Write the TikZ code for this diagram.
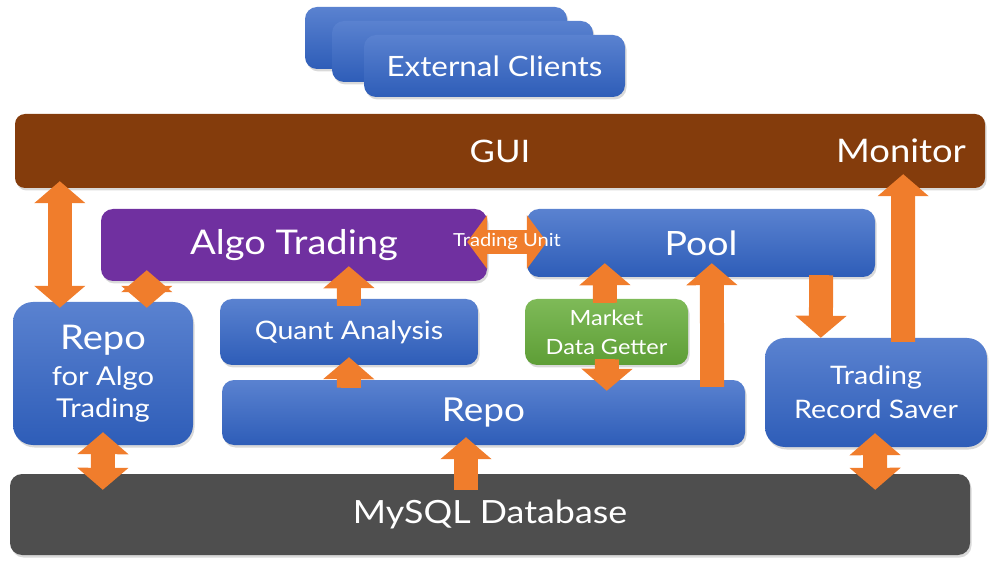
\documentclass[tikz,border=0pt]{standalone}
\usepackage{fontspec}
\setmainfont{Lato}[FakeStretch=1.12]
\usetikzlibrary{arrows.meta,shadows}
\definecolor{blueA}{HTML}{5A82D0}
\definecolor{blueB}{HTML}{2E5DB8}
\definecolor{algopurple}{HTML}{7030A0}
\definecolor{guibrown}{HTML}{843C0C}
\definecolor{greenA}{HTML}{7EBA58}
\definecolor{greenB}{HTML}{5E9E36}
\definecolor{dbgrey}{HTML}{4E4E4E}
\definecolor{linkorange}{HTML}{F07D2C}
\begin{document}
\begin{tikzpicture}[x=1pt, y=-1pt,
    >={Triangle[width=50pt,length=22pt]},
    box/.style={rounded corners=12pt, text=white, align=center, inner sep=0pt,
      drop shadow={opacity=0.3, shadow xshift=1.5pt, shadow yshift=-2.5pt}},
    bluebox/.style={box, top color=blueA, bottom color=blueB},
    link/.style={draw=linkorange, line width=24pt, ->},
    dlink/.style={link, <->}]
    \useasboundingbox (0,0) rectangle (997,572);

    % external clients stack
    \node[bluebox, minimum width=262pt, minimum height=62pt] (ext1) at (436,38) {};
    \node[bluebox, minimum width=261pt, minimum height=61pt] (ext2) at (462.5,51.5) {};
    \node[bluebox, minimum width=261pt, minimum height=62pt, font=\fontsize{28}{32}\selectfont] (clients) at (494.5,66) {External Clients};

    % gui bar
    \node[box, fill=guibrown, rounded corners=10pt, minimum width=970pt, minimum height=74pt, font=\fontsize{31}{40}\selectfont] (gui) at (500,151) {GUI};
    \node[text=white, font=\fontsize{32.5}{40}\selectfont] (monitor) at (901,151) {Monitor};

    % middle boxes
    \node[box, fill=algopurple, minimum width=386pt, minimum height=72pt, font=\fontsize{34}{40}\selectfont] (algo) at (294,245) {Algo Trading};
    \node[bluebox, minimum width=348pt, minimum height=68pt, font=\fontsize{33.5}{40}\selectfont] (pool) at (701,243) {Pool};
    \node[bluebox, rounded corners=20pt, minimum width=180pt, minimum height=143pt, font=\fontsize{26}{32}\selectfont] (repoalgo) at (103,373.5) {{\fontsize{34}{36}\selectfont Repo}\\[4pt]for Algo\\Trading};
    \node[bluebox, minimum width=258pt, minimum height=66pt, font=\fontsize{25.5}{30}\selectfont] (quant) at (349,332) {Quant Analysis};
    \node[box, top color=greenA, bottom color=greenB, minimum width=163pt, minimum height=66pt, font=\fontsize{21}{29}\selectfont] (market) at (606.5,332) {Market\\Data Getter};
    \node[bluebox, minimum width=523pt, minimum height=65pt, font=\fontsize{33}{36}\selectfont] (repo) at (483.5,412.5) {Repo};
    \node[bluebox, rounded corners=20pt, minimum width=222pt, minimum height=109pt, font=\fontsize{25.5}{34}\selectfont] (saver) at (876,392.5) {Trading\\Record Saver};

    % database
    \node[box, fill=dbgrey, minimum width=960pt, minimum height=81pt, font=\fontsize{32}{38}\selectfont] (mysql) at (490,514.5) {MySQL Database};

    % arrows
    \draw[dlink] ([shift={(45,-7)}]gui.south west) -- ([shift={(47,6)}]repoalgo.north west);
    \draw[dlink] ([shift={(46,-11)}]algo.south west) -- ([shift={(134,6)}]repoalgo.north west);
    \draw[dlink] ([shift={(0,-13)}]repoalgo.south) -- ([shift={(93,16)}]mysql.north west);
    \draw[link] ([shift={(0,7)}]quant.north) -- ([shift={(248,-15)}]algo.south west);
    \draw[link] ([shift={(127,8)}]repo.north west) -- ([shift={(0,-8)}]quant.south);
    \draw[link] ([shift={(-24,16)}]mysql.north) -- ([shift={(-17.5,-8)}]repo.south);
    \draw[dlink, >={Triangle[width=53pt,length=20pt]}] ([shift={(-20,-3)}]algo.east) -- ([shift={(20,-1)}]pool.west)
        node[midway, text=white, font=\fontsize{18}{20}\selectfont] (unit) {Trading Unit};
    \draw[link] ([shift={(-1.5,4)}]market.north) -- ([shift={(78,-14)}]pool.south west);
    \draw[link] ([shift={(0.5,-6)}]market.south) -- ([shift={(385,11)}]repo.north west);
    \draw[link] ([shift={(-33,7)}]repo.north east) -- ([shift={(185,-14)}]pool.south west);
    \draw[link] ([shift={(-54,-2)}]pool.south east) -- ([shift={(56,0)}]saver.north west);
    \draw[link] ([shift={(27,4)}]saver.north) -- ([shift={(-82,-14)}]gui.south east);
    \draw[dlink] ([shift={(-1,-14)}]saver.south) -- ([shift={(-95,16)}]mysql.north east);
\end{tikzpicture}
\end{document}
